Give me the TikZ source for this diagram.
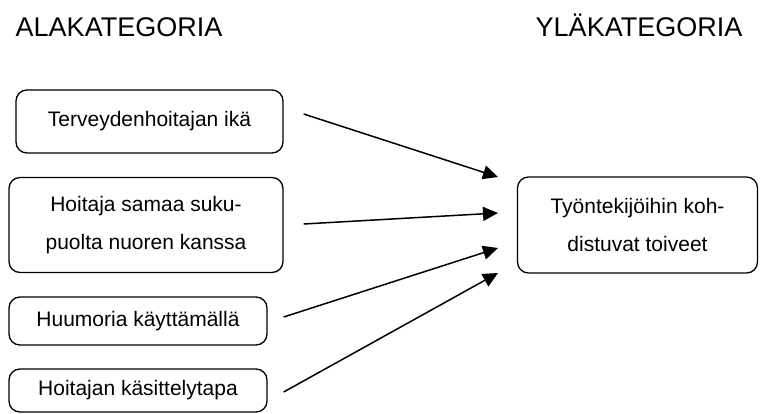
\documentclass[tikz,border=0pt]{standalone}
\usepackage{fontspec}
\setmainfont{Liberation Sans}
\usepackage{xcolor}
\usetikzlibrary{arrows.meta}

\tikzset{
  katbox/.style={draw, line width=1.3pt, rounded corners=11pt, align=center,
                 font=\fontsize{21}{38}\selectfont, inner sep=0pt},
  katarrow/.style={line width=1.5pt, -{Triangle[length=15pt,width=14pt]}},
  kattitle/.style={font=\fontsize{27}{30}\selectfont, anchor=base}
}

\begin{document}
\begin{tikzpicture}[x=1pt, y=-1pt]
\useasboundingbox (0,0) rectangle (760,414);

% ===== titles =====
\node[kattitle] (ala) at (119,37) {ALAKATEGORIA};
\node[kattitle] (yla) at (639,37) {YLÄKATEGORIA};

% ===== subcategories =====
\node[katbox, minimum width=267pt, minimum height=63pt] (ika) at (149.5,121.5)
  {Terveydenhoitajan ikä};
\node[katbox, minimum width=274pt, minimum height=95pt] (suku) at (146,225)
  {Hoitaja samaa suku-\\puolta nuoren kanssa};
\node[katbox, minimum width=258pt, minimum height=48pt] (huumori) at (138,321)
  {Huumoria käyttämällä};
\node[katbox, minimum width=258pt, minimum height=43pt] (tapa) at (138,390.5)
  {Hoitajan käsittelytapa};

% ===== main category =====
\node[katbox, minimum width=240pt, minimum height=96pt] (toiveet) at (637.5,225)
  {Työntekijöihin koh-\\distuvat toiveet};

% arrow ends
\coordinate (t1) at (498,177);
\coordinate (t2) at (498,213);
\coordinate (t3) at (498,248);
\coordinate (t4) at (498,273);

% ===== arrows =====
\draw[katarrow] ([xshift=20pt,yshift=7.5pt]ika.east) -- (t1);
\draw[katarrow] ([xshift=20pt,yshift=1pt]suku.east) -- (t2);
\draw[katarrow] ([xshift=16pt,yshift=4pt]huumori.east) -- (t3);
\draw[katarrow] ([xshift=16pt,yshift=-1.5pt]tapa.east) -- (t4);

\end{tikzpicture}
\end{document}
